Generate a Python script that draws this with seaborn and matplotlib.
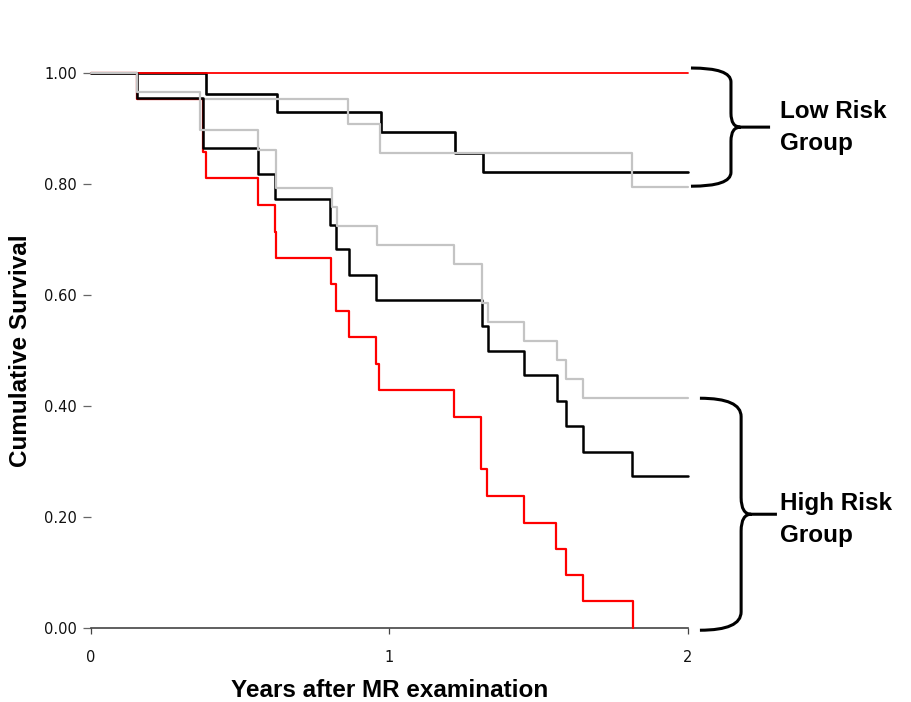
import numpy as np
import pandas as pd
import matplotlib
matplotlib.use("Agg")
import matplotlib.pyplot as plt
from matplotlib.path import Path
from matplotlib.patches import PathPatch
import seaborn as sns

# Kaplan-Meier step curves: event times (years) and survival after each event
low_black_t = [0, 0.386, 0.624, 0.973, 1.218, 1.312, 2.0]
low_black_s = [1.0, 0.963, 0.930, 0.894, 0.856, 0.822, 0.822]

low_red_t = [0, 2.0]
low_red_s = [1.0, 1.0]

low_gray_t = [0, 0.154, 0.862, 0.968, 1.813, 2.0]
low_gray_s = [1.0, 0.953, 0.908, 0.856, 0.795, 0.795]

high_red_t = [0, 0.154, 0.374, 0.385, 0.560, 0.616, 0.620, 0.803, 0.821, 0.864,
              0.955, 0.965, 1.217, 1.307, 1.326, 1.451, 1.558, 1.591, 1.649, 1.815]
high_red_s = [1.0, 0.953, 0.857, 0.810, 0.762, 0.714, 0.667, 0.619, 0.571, 0.524,
              0.476, 0.429, 0.381, 0.286, 0.238, 0.190, 0.143, 0.095, 0.048, 0.0]

high_black_t = [0, 0.154, 0.374, 0.560, 0.616, 0.801, 0.820, 0.864, 0.955, 1.309,
                1.329, 1.451, 1.560, 1.591, 1.649, 1.813, 2.0]
high_black_s = [1.0, 0.955, 0.864, 0.818, 0.773, 0.727, 0.682, 0.636, 0.591, 0.545,
                0.500, 0.455, 0.409, 0.364, 0.318, 0.273, 0.273]

high_gray_t = [0, 0.154, 0.365, 0.560, 0.619, 0.806, 0.823, 0.957, 1.217, 1.311,
               1.329, 1.451, 1.560, 1.591, 1.649, 2.0]
high_gray_s = [1.0, 0.966, 0.897, 0.862, 0.793, 0.759, 0.724, 0.690, 0.655, 0.586,
               0.552, 0.517, 0.483, 0.448, 0.414, 0.414]

x_ticks = [0, 1, 2]
y_ticks = [0.0, 0.2, 0.4, 0.6, 0.8, 1.0]
y_tick_labels = ["0.00", "0.20", "0.40", "0.60", "0.80", "1.00"]

RED = "#ff0000"
BLACK = "#000000"
GRAY = "#c4c4c4"

# drawing order (later curves sit on top)
curves = [
    ("low", "black", low_black_t, low_black_s, BLACK, 1.9),
    ("low", "red", low_red_t, low_red_s, RED, 1.3),
    ("low", "gray", low_gray_t, low_gray_s, GRAY, 1.6),
    ("high", "red", high_red_t, high_red_s, RED, 1.6),
    ("high", "black", high_black_t, high_black_s, BLACK, 1.8),
    ("high", "gray", high_gray_t, high_gray_s, GRAY, 1.6),
]

frames = []
for grp, name, t, s, _, _ in curves:
    frames.append(pd.DataFrame({"time": t, "survival": s,
                                "curve": f"{grp}-{name}", "group": grp}))
df = pd.concat(frames, ignore_index=True)

sns.set_style("white")
plt.rcParams["font.family"] = ["Liberation Sans", "DejaVu Sans"]
plt.rcParams["text.color"] = "black"
plt.rcParams["axes.labelcolor"] = "black"

fig = plt.figure(figsize=(9.11, 7.02), dpi=100)
ax = fig.add_axes([0.0999, 0.1054, 0.6553, 0.7906])

for z, (grp, name, t, s, color, lw) in enumerate(curves):
    sub = df[df["curve"] == f"{grp}-{name}"]
    sns.lineplot(data=sub, x="time", y="survival", ax=ax, color=color,
                 linewidth=lw, drawstyle="steps-post", estimator=None,
                 sort=False, legend=False, zorder=3 + z, clip_on=False)

ax.set_xlim(0, 2)
ax.set_ylim(0, 1)
ax.set_xticks(x_ticks)
ax.set_xticklabels([str(v) for v in x_ticks])
ax.set_yticks(y_ticks)
ax.set_yticklabels(y_tick_labels)

for side in ["top", "right", "left"]:
    ax.spines[side].set_visible(False)
ax.spines["bottom"].set_color("#444444")
ax.spines["bottom"].set_linewidth(1.2)

ax.tick_params(axis="x", bottom=True, direction="out", length=4, width=0.9,
               color="#444444", pad=12, labelsize=10.5, labelcolor="#111111")
ax.tick_params(axis="y", left=True, direction="out", length=6, width=0.9,
               color="#666666", pad=4, labelsize=10.5, labelcolor="#111111")
for lab in ax.get_xticklabels() + ax.get_yticklabels():
    lab.set_family("DejaVu Sans")

ax.set_xlabel("Years after MR examination", fontsize=17.5, fontweight="bold",
              labelpad=10)
ax.set_ylabel("Cumulative Survival", fontsize=17.5, fontweight="bold",
              labelpad=9)


def draw_brace(ax, ytop, ybot, x0, x1, x2, x3, r_end, r_mid, lw=2.2):
    ymid = (ytop + ybot) / 2
    verts = [
        (x0, ytop), (x1, ytop), (x1, ytop - r_end),
        (x1, ymid + r_mid),
        (x1, ymid), (x2, ymid),
        (x3, ymid),
        (x2, ymid), (x1, ymid), (x1, ymid - r_mid),
        (x1, ybot + r_end),
        (x1, ybot), (x0, ybot),
    ]
    codes = [
        Path.MOVETO, Path.CURVE3, Path.CURVE3,
        Path.LINETO,
        Path.CURVE3, Path.CURVE3,
        Path.LINETO,
        Path.MOVETO, Path.CURVE3, Path.CURVE3,
        Path.LINETO,
        Path.CURVE3, Path.CURVE3,
    ]
    patch = PathPatch(Path(verts, codes), fill=False, lw=lw, color="black",
                      clip_on=False, capstyle="butt", joinstyle="round")
    ax.add_patch(patch)
    return ymid


# braces span the range of final survival values in each risk group
ends = df.groupby("curve")["survival"].last()
low_ends = ends[[c for c in ends.index if c.startswith("low")]]
high_ends = ends[[c for c in ends.index if c.startswith("high")]]

low_mid = draw_brace(ax, low_ends.max() + 0.009, low_ends.min() + 0.001,
                     2.01, 2.144, 2.176, 2.275, 0.025, 0.025)
high_mid = draw_brace(ax, high_ends.max(), high_ends.min() - 0.004,
                      2.04, 2.178, 2.212, 2.298, 0.033, 0.03)

ax.text(2.308, low_mid, "Low Risk\nGroup", fontsize=17.5, fontweight="bold",
        ha="left", va="center", linespacing=1.5, color="black")
ax.text(2.308, high_mid - 0.01, "High Risk\nGroup", fontsize=17.5,
        fontweight="bold", ha="left", va="center", linespacing=1.5,
        color="black")

fig.savefig("out.png", dpi=100)
